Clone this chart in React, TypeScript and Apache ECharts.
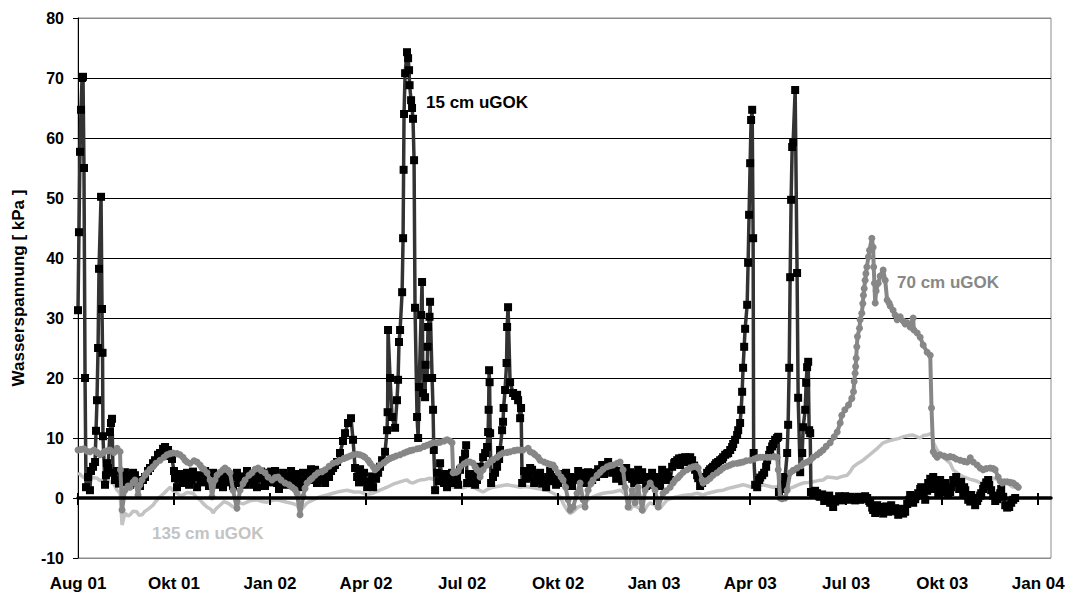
import React, { useEffect, useRef } from "react";
import * as echarts from "echarts";

// x values: days since 1 Aug 2001
const xTickDays = [0, 90, 180, 270, 360, 450, 540, 630, 720, 810, 900];
const xTickLabels = ["Aug 01", "Okt 01", "Jan 02", "Apr 02", "Jul 02", "Okt 02", "Jan 03", "Apr 03", "Jul 03", "Okt 03", "Jan 04"];
const xMaxDay = 912;

const yTitle = "Wasserspannung [ kPa ]";
const label15 = "15 cm uGOK";
const label70 = "70 cm uGOK";
const label135 = "135 cm uGOK";

// 15 cm uGOK  [day, kPa]
const series15: [number, number][] = [
  [0,31.3],[0.9,44.3],[1.9,57.7],[2.8,64.7],[3.8,70.0],[4.7,70.2],[5.6,55.0],[6.6,20.0],[7.5,1.8],[9.4,3.5],[11.2,1.3],[12.2,4.5],[14.1,5.2],[16.0,6.0],[16.9,11.2],[17.8,16.3],[18.8,25.0],[19.7,38.2],[21.6,50.2],[22.5,31.5],[23.0,24.2],[23.4,10.3],[25.3,2.2],[26.2,3.8],[27.2,5.8],[28.1,5.0],[30.0,11.0],[30.9,12.5],[31.9,13.2],[32.8,4.2],[34.7,3.0],[36.6,4.5],[38.4,2.4],[39.4,2.8],[41.3,3.8],[43.1,2.6],[44.0,4.3],[46.9,3.8],[48.8,2.2],[49.7,2.8],[51.6,4.2],[53.4,3.8],[55.3,3.0],[56.3,2.5],[58.1,2.0],[60.9,3.0],[62.8,3.5],[65.6,4.5],[67.5,5.0],[70.3,5.8],[72.2,6.3],[75.0,7.2],[76.9,7.5],[79.7,8.2],[81.6,8.5],[84.4,8.0],[86.3,7.0],[88.1,6.5],[90.0,4.5],[90.9,3.3],
  [92.8,1.8],[94.7,3.2],[96.6,4.0],[98.4,2.5],[100.3,3.5],[102.2,4.2],[104.1,2.2],[106.0,3.0],[107.8,4.4],[109.7,3.5],[111.6,1.8],[113.4,3.8],[115.3,2.6],[117.2,3.0],[119.1,4.5],[120.9,3.6],[122.8,2.0],[124.7,2.5],[126.6,4.2],[128.4,3.2],[130.3,3.5],[132.2,2.2],[134.1,3.0],[135.9,1.8],[137.8,3.3],[139.7,4.0],[141.6,2.6],[143.4,3.5],[145.3,2.0],[147.2,3.8],[149.0,4.2],[150.9,2.5],[152.8,3.6],[154.7,3.0],[156.6,2.2],[158.4,4.5],[160.3,3.5],[162.2,2.8],[164.1,2.2],[166.0,3.8],[167.8,1.8],[169.7,3.2],[171.6,4.4],[173.4,4.2],[175.3,2.0],[177.2,3.0],[179.1,3.5],[181.0,4.4],[182.8,2.6],[184.7,4.5],[186.6,2.5],[188.4,1.5],[190.3,3.3],[192.2,4.2],[194.1,2.2],[195.9,3.6],[197.8,3.0],[199.7,4.5],[201.6,2.8],[203.4,3.5],[205.3,4.0],[207.2,1.8],[209.1,2.8],[210.9,4.2],[212.8,2.8],[214.7,3.6],[216.6,3.0],[218.4,4.8],[220.3,3.4],[222.2,4.7],[224.0,2.5],[225.9,3.0],[227.8,4.2],[229.7,3.2],[231.6,2.5],[233.4,4.2],[235.3,3.5],[237.2,4.5],[239.1,5.0],[240.9,5.5],[242.8,6.0],
  [245.6,7.5],[248.4,9.5],[250.3,10.8],[253.1,12.5],[255.9,13.3],[257.8,9.7],[259.7,5.0],[261.6,3.5],[263.4,2.6],[264.4,4.8],[266.3,3.0],[268.1,4.2],[270.0,2.8],[271.0,1.8],[273.8,2.5],[275.6,3.6],[276.6,1.8],[279.4,3.2],[281.3,4.2],[283.1,5.2],[285.0,6.3],[287.8,7.7],[289.7,11.3],[290.2,14.3],[290.6,28.0],[292.5,20.0],[294.4,13.5],[297.2,11.7],[299.0,16.3],[300.0,19.7],[300.9,26.0],[301.9,28.0],[303.8,34.3],[304.7,43.3],[305.2,54.7],[305.6,64.0],[306.6,70.8],[308.4,74.3],[309.4,73.3],[310.3,71.3],[310.8,68.8],[312.2,66.3],[313.1,65.0],[314.0,63.2],[315.0,56.3],[315.9,31.7],[317.8,13.5],[318.8,10.0],[319.7,18.5],[321.6,30.5],[322.5,36.0],[323.4,17.5],[325.3,16.8],[325.8,22.2],[327.2,20.0],[327.7,25.2],[328.1,28.5],[329.5,30.2],[330.0,32.7],[331.9,20.0],[332.8,14.7],[333.5,8.0],[334.7,1.3],[336.6,4.2],[338.4,2.8],[339.4,5.8],[341.3,3.5],[343.1,2.5],[344.1,4.0],[345.9,1.8],[347.8,3.8],[348.8,3.0],[350.6,4.2],[351.6,2.5],[353.4,4.0],[355.3,3.5],[356.3,2.2],[358.1,4.7],[360.9,6.3],[362.8,7.4],[363.8,8.8],[364.7,2.5],[366.6,4.0],[367.5,3.5],[369.4,2.5],[371.3,4.0],[372.2,2.2],[374.0,3.0],[375.9,4.2],[376.9,5.2],[379.7,6.8],[381.6,7.5],[383.4,8.5],[384.4,11.0],[384.9,14.7],[385.3,21.3],[385.8,19.3],[386.3,10.8],[387.2,2.5],[389.0,3.5],[390.9,4.2],[392.8,5.2],[394.7,6.5],[395.6,8.0],[397.5,11.3],[398.4,12.7],[398.9,15.0],[400.3,18.0],[401.7,22.5],[402.2,28.5],[403.1,31.8],[405.0,19.3],[407.8,17.5],[409.7,17.0],[411.6,17.2],[412.5,16.3],[414.4,13.3],[415.3,15.0],
  [416.3,2.5],[418.1,4.5],[420.0,3.2],[421.9,3.5],[423.8,5.0],[425.6,4.7],[427.5,2.5],[429.4,3.8],[431.3,3.0],[433.1,4.2],[435.0,2.4],[436.9,3.0],[438.8,1.8],[440.6,3.5],[442.5,4.5],[444.4,2.8],[446.3,3.5],[448.1,2.2],[450.0,2.5],[451.9,3.4],[453.8,4.0],[455.6,3.0],[457.5,4.2],[459.4,2.6],[461.3,3.5],[463.1,2.0],[465.0,3.4],[466.9,3.0],[468.8,4.5],[470.6,3.6],[472.5,4.2],[474.4,2.5],[476.3,3.2],[478.1,4.3],[480.0,3.6],[481.9,3.0],[483.8,4.2],[485.6,3.5],[487.5,4.8],[489.4,4.2],[491.3,5.5],[493.1,4.0],[495.0,5.2],[496.9,6.0],[498.8,5.0],[500.6,4.2],[502.5,4.7],[504.4,3.2],[506.3,4.5],[508.1,4.2],[510.0,2.8],[511.9,4.0],[513.8,5.0],[515.6,3.5],[517.5,4.3],[519.4,3.2],[521.3,2.5],[523.1,4.0],[525.0,4.7],[526.9,3.0],[528.8,4.3],[530.6,3.4],[532.5,2.0],[534.4,3.5],[536.3,2.2],[538.1,4.2],[540.0,3.0],[541.9,2.5],[543.8,3.5],[545.6,2.0],[547.5,4.7],[549.4,3.0],[551.3,4.3],[553.1,3.6],[555.0,3.0],[556.9,5.2],
  [558.8,5.8],[559.7,6.0],[561.6,6.3],[563.4,6.6],[564.4,5.5],[566.3,6.7],[568.1,6.0],[569.1,6.8],[570.9,6.7],[572.8,6.2],[573.8,6.8],[575.6,6.3],[577.5,5.4],[578.4,4.7],[580.3,3.8],[581.3,3.3],[583.1,2.0],[585.0,2.5],[586.9,3.0],[587.8,3.5],[589.7,4.2],[591.6,4.5],[592.5,4.8],[594.4,5.0],[595.3,5.2],[597.2,5.5],[598.1,5.8],[600.0,6.0],[601.9,6.3],[603.8,6.5],[604.7,6.8],[606.6,7.2],[608.4,7.4],[609.4,7.5],[611.3,8.0],[613.1,8.5],[614.1,9.0],[615.9,9.7],[617.8,10.5],[618.8,11.3],[620.6,12.5],[621.6,14.7],[622.5,17.7],[623.4,21.7],[624.4,25.2],[625.3,28.2],[627.2,32.2],[628.1,39.2],[629.0,47.2],[630.0,55.8],[630.9,63.0],[631.9,64.7],[632.8,43.3],[633.3,7.5],[634.7,2.2],[636.6,1.8],[638.5,3.0],[639.4,3.4],[641.3,3.8],[643.1,4.2],[645.0,5.2],[645.9,6.3],[647.8,7.2],[648.8,8.0],[650.6,8.6],[651.6,9.0],[653.4,9.7],[655.3,10.0],[656.3,10.2],[657.0,1.0],[659.7,1.5],[661.6,2.2],[662.8,3.5],[664.7,7.5],[665.6,12.2],[666.6,21.7],[667.5,36.8],[668.4,49.7],[669.4,58.5],[670.3,59.3],[672.2,68.0],[674.0,37.5],[675.0,16.7],[676.9,4.3],[678.8,7.5],[679.7,11.8],[681.6,14.7],[682.5,19.2],[683.4,21.8],[684.4,22.7],[685.3,11.3],[686.3,10.8],[687.0,1.0],
  [689.0,0.5],[690.9,1.2],[692.8,0.8],[694.7,0.3],[695.6,0.2],[697.5,0.6],[699.4,-0.5],[701.3,0.2],[702.2,-0.3],[704.1,0.4],[705.0,-0.8],[706.9,-0.2],[707.8,-1.5],[709.7,-0.6],[711.6,-0.3],[713.4,0.3],[715.3,-0.4],[717.2,0.0],[719.1,0.3],[721.9,-0.3],[723.8,0.2],[726.6,0.0],[728.4,-0.4],[731.3,0.2],[733.1,-0.3],[735.9,-0.2],[737.8,0.3],[739.7,0.0],[741.6,-0.5],[742.5,-0.8],[744.4,-1.6],[745.3,-2.0],[747.2,-2.5],[749.1,-1.2],[750.9,-2.2],[752.8,-1.5],[754.7,-2.6],[755.6,-2.0],[757.5,-1.4],[759.4,-2.3],[761.3,-1.6],[762.2,-1.2],[764.1,-2.2],[765.9,-1.7],[767.8,-2.2],[768.8,-2.8],[770.6,-1.8],[771.6,-2.0],[773.4,-2.6],[775.3,-2.3],[777.2,-1.0],[779.1,-0.3],[780.0,0.5],[781.9,0.1],[782.8,-0.8],[784.7,-0.2],[785.6,0.3],[787.5,0.8],[789.4,1.5],[790.3,1.8],[792.2,0.6],[794.1,-0.3],[795.9,1.2],[796.9,2.5],[798.8,3.2],[799.7,1.5],[801.6,3.5],[803.4,2.6],[804.4,1.8],[806.3,0.5],[807.2,1.6],[808.1,3.0],[810.0,2.2],[810.9,1.0],[812.8,2.5],[814.7,1.5],[815.6,0.5],[817.5,1.0],[818.4,1.8],[820.3,3.0],[821.3,2.5],[823.1,3.5],[825.0,2.6],[825.9,1.5],[827.8,2.7],[829.7,0.8],[830.6,1.8],[831.6,1.3],[833.4,0.4],[834.4,-0.3],[836.3,-0.6],[837.2,0.5],[839.1,-0.5],[840.9,-1.2],[842.8,-0.5],[843.8,0.0],[845.6,0.4],[846.6,0.8],[848.4,1.5],[849.4,2.0],[851.3,2.6],[853.1,3.0],[854.1,2.2],[855.9,1.3],[857.8,0.4],[859.7,-0.5],[861.6,-0.2],[862.5,0.2],[864.4,0.8],[865.3,1.5],[867.2,0.2],[869.1,-1.2],[870.9,-1.6],[872.8,-1.5],[874.7,-0.8],[876.6,-0.3],[878.4,0.0]
];

// 70 cm uGOK  [day, kPa]
const series70: [number, number][] = [
  [0,8.0],[2.8,8.1],[5.6,8.2],[8.4,7.8],[11.3,7.7],[15.0,8.0],[17.8,7.6],[20.6,7.2],[23.4,7.5],[25.3,7.8],[28.1,7.9],[30,8.0],[33.8,7.6],[36.6,8.3],[39.4,7.7],[39.8,4.7],[41.3,-2.0],[44,1.3],[46.9,2.0],[48.8,1.8],[51.6,2.6],[53.4,3.0],[56.3,0.5],[58.1,2.2],[60,3.0],[62.8,3.8],[64.7,4.2],[67.5,4.8],[70.3,5.2],[73.1,5.8],[76.9,6.3],[80.6,6.8],[83.4,7.2],[86.3,7.4],[89,7.5],[92.8,7.4],[95.6,7.2],[98.4,6.8],[100.3,6.3],[102.2,6.0],[105,5.8],[108.8,6.2],[111.6,6.0],[114.4,5.5],[116.3,5.0],[118.1,4.8],[120.9,4.2],[123.8,3.0],[125.6,0.2],[128.4,3.0],[130.3,3.8],[133.1,4.3],[135.9,4.7],[137.8,5.0],[140.6,4.6],[142.5,4.2],[145.3,1.3],[149,-1.7],[151.9,1.3],[154.7,2.4],[156.6,3.0],[160.3,3.8],[163.1,4.2],[165.9,4.8],[168.8,5.0],[171.6,4.6],[175.3,4.2],[178.1,3.5],[181.9,3.0],[184.7,3.4],[187.5,3.5],[190.3,3.0],[194,2.5],[197.8,2.2],[200.6,1.8],[203.4,1.4],[205.3,0.8],[208.1,-2.8],[210.9,0.2],[212.8,1.6],[214.7,2.5],[217.5,3.0],[219.4,3.3],[222.2,3.8],[225,4.2],[228.8,4.4],[231.6,4.7],[235.3,5.3],[239,5.8],[242.8,6.0],[245.6,6.3],[249.4,6.6],[252.2,6.8],[255,7.0],[257.8,7.2],[261.6,7.3],[264.4,7.2],[267.2,7.0],[269,6.8],[271.9,6.3],[273.8,5.8],[276.6,5.2],[278.4,4.7],[280.3,5.0],[283.1,5.5],[286.9,5.9],[289.7,6.3],[292.5,6.6],[295.3,6.8],[298.1,7.0],[301.9,7.2],[305.6,7.5],[308.4,7.7],[311.3,7.9],[314,8.0],[317.8,8.2],[320.6,8.3],[324.4,8.6],[327.2,8.8],[330,9.0],[332.8,9.2],[336.6,9.2],[339.4,9.3],[343.1,9.5],[345.9,9.7],[348.8,9.5],[350.6,9.2],[351.6,4.2],[354.4,4.3],[356.3,4.5],[358.1,5.2],[361.9,5.7],[364.7,6.0],[367.5,6.0],[370.3,5.8],[372.2,5.2],[374,4.7],[376.9,3.5],[379.7,4.7],[383.4,5.5],[386.3,6.0],[389.1,6.4],[392.8,6.8],[395.6,7.2],[398.4,7.5],[402.2,7.6],[405,7.7],[408.8,7.9],[411.6,8.0],[414.4,8.0],[417.2,8.0],[421.9,8.3],[423.8,7.7],[426.6,7.5],[428.4,7.2],[431.3,6.8],[433.1,6.3],[436.9,6.0],[439.7,5.8],[442.5,5.6],[445.3,5.5],[447.2,5.0],[450,4.2],[452.8,3.5],[454.7,3.0],[457,1.8],[459.4,-0.3],[461.3,-2.0],[464.1,-1.5],[467.8,0.8],[470.6,2.5],[473.4,-0.3],[475.3,-1.5],[478.1,1.3],[480.9,2.4],[482.8,3.0],[486.6,3.8],[489.4,4.3],[492.2,4.8],[495.9,5.2],[498.8,5.4],[501.6,5.5],[505.3,5.8],[508.1,6.0],[510.9,4.7],[512.8,1.8],[515.6,-1.5],[519.4,1.3],[522.2,-0.8],[525,1.8],[528.8,-2.0],[531.6,1.3],[536.3,2.5],[540.9,1.3],[543.8,-1.5],[548.4,0.8],[551.3,1.2],[555,1.8],[557.8,2.5],[559.7,3.0],[562.5,3.4],[564.4,3.8],[567.2,4.3],[570.9,4.7],[573.8,5.0],[576.6,5.2],[579.4,5.3],[581.3,5.0],[585,3.0],[585.9,2.5],[589.7,2.9],[592.5,3.3],[595.3,3.8],[599,4.2],[601.9,4.6],[604.7,5.0],[608.4,5.3],[611.3,5.5],[614.1,5.7],[617.8,5.8],[620.6,5.9],[623.4,6.0],[626.3,6.2],[630,6.3],[633.8,6.5],[636.6,6.7],[639.4,6.8],[642.2,6.8],[645.9,6.8],[648.8,6.8],[652.5,6.9],[655.3,6.8],[656.3,4.7],[658.1,0.0],[660.0,-0.1],[662.8,0.0],[664.7,1.3],[667.5,4.2],[670.3,4.6],[674,5.0],[677.8,5.4],[680,5.8],[683.4,6.0],[686.3,6.3],[689.1,6.8],[692.8,7.2],[695.6,7.6],[698.4,8.0],[701.3,8.6],[705,9.2],[708.8,10.2],[711.6,11.0],[714.4,12.5],[715.9,13.8],[718.8,14.7],[722.2,15.5],[725.3,16.6],[726.9,17.7],[727.5,19.4],[728.4,20.8],[728.9,21.9],[729.4,23.3],[730,25.2],[730.6,26.9],[732.5,28.3],[733.1,29.7],[734.7,30.8],[735.6,32.4],[736.2,33.8],[736.9,34.9],[737.8,36.3],[738.5,37.4],[739.4,38.5],[740.9,40.2],[741.9,41.3],[744.1,43.3],[745.3,41.8],[745.8,38.5],[746.5,35.8],[747.2,32.5],[748.1,34.5],[750,35.8],[751.9,37.0],[754.7,38.0],[756.6,36.3],[758.4,33.0],[760.3,32.5],[761.3,32.0],[764,31.3],[765.9,30.5],[767.8,29.7],[769.7,30.0],[770.6,30.2],[773.4,29.5],[775.3,29.0],[777.2,29.2],[780,28.5],[782.8,30.0],[783.5,28.0],[786.6,27.5],[789.4,26.8],[792.2,25.5],[795.9,24.3],[798.8,23.8],[800,15.0],[801.6,7.7],[803.4,7.2],[805.3,6.8],[808.1,7.2],[811.9,7.0],[814.7,6.8],[817.5,6.9],[820.3,6.8],[823.1,6.5],[826.9,6.3],[830.6,6.1],[833.4,6.0],[836.3,6.7],[839.1,6.0],[842.8,5.5],[845.6,5.0],[848.4,4.7],[851.3,4.9],[855,5.0],[857.8,4.9],[859.7,4.7],[862.5,3.5],[864.4,2.8],[866.3,2.5],[868.1,2.7],[870.9,2.7],[873.8,2.6],[876.6,2.5],[879.4,2.1],[881.3,1.8]
];

// 135 cm uGOK  [day, kPa]
const series135: [number, number][] = [
  [0,4.2],[2.8,3.8],[4.7,3.5],[7.5,3.2],[11.3,3.0],[14.1,3.4],[17.8,3.3],[20.6,2.9],[23.4,3.0],[26.3,3.2],[30,2.7],[33.8,2.3],[36.6,1.3],[39.4,0.8],[41.3,-4.5],[44,-2.5],[46.9,-3.0],[48.8,-2.8],[51.6,-2.2],[55.3,-2.3],[57.2,-2.9],[60,-2.8],[62.8,-2.2],[64.7,-2.0],[67.5,-1.6],[70.3,-1.2],[73.1,-0.5],[76.9,0.2],[80.6,0.8],[83.4,1.3],[86.3,1.8],[89.1,1.2],[92.8,0.8],[95.6,0.4],[98.4,0.5],[102.2,0.9],[107.8,0.8],[110.6,0.2],[114.4,-0.3],[117.2,-0.9],[120.9,-1.5],[124.7,-1.9],[126.6,-2.5],[129.4,-1.8],[133.1,-1.2],[136.9,-0.6],[139.7,-0.8],[142.5,-1.1],[145.3,-1.5],[148.1,-1.2],[151.9,-0.8],[154.7,-1.0],[158.4,-0.7],[162.2,-0.4],[167.8,-0.3],[172.5,-0.6],[177.2,-0.7],[181.9,-0.4],[186.6,-0.3],[191.3,-0.5],[195.9,-0.7],[200.6,-0.9],[205.3,-1.2],[208.1,-2.2],[211.9,-1.4],[214.7,-0.8],[218.4,-0.5],[224,0.0],[228.8,0.3],[233.4,0.5],[239,0.8],[245.6,1.1],[252.2,1.3],[258.8,1.0],[264.4,1.0],[270.0,0.6],[276.6,0.8],[283.1,1.3],[289.7,1.8],[295.3,2.3],[301.9,2.7],[305.6,2.9],[308.4,3.0],[311.3,2.6],[314,2.5],[317.8,2.8],[320.6,3.0],[325.3,3.1],[330,3.3],[334.7,3.0],[339.4,2.5],[345.0,2.1],[351.6,1.8],[356.3,1.9],[360.9,1.7],[365.6,2.0],[370.3,1.8],[375.0,1.4],[379.7,1.0],[384.4,1.5],[389,1.8],[395.6,2.0],[402.2,2.2],[408.8,2.0],[414.4,1.8],[420.0,1.9],[426.6,1.7],[433.1,1.5],[439.7,1.3],[445.3,0.8],[451.9,0.2],[455.6,-1.2],[458.4,-2.0],[461.3,-2.6],[464.1,-2.3],[468.8,-1.5],[473.4,-1.2],[476.3,-0.6],[480,0.0],[486.6,0.5],[492.2,0.8],[496.9,0.9],[501.6,1.0],[508.1,1.3],[511.9,0.8],[514.7,0.2],[517.5,-2.0],[520.3,-1.2],[524,-1.5],[526.9,-1.8],[529.7,-2.5],[533.4,-1.3],[536.3,-0.8],[540.9,-1.2],[545.6,-1.7],[549.4,-0.9],[552.2,-0.3],[556.9,0.0],[561.6,0.2],[566.3,0.4],[570.9,0.5],[575.6,0.6],[580.3,0.8],[585.9,0.5],[590.6,0.8],[595.3,1.0],[600.0,1.2],[604.7,1.3],[609.4,1.6],[614,1.8],[618.8,2.0],[623.4,2.2],[628.1,2.0],[632.8,1.7],[637.5,2.0],[642.2,2.2],[646.9,2.0],[651.6,1.8],[656.3,1.9],[660.9,1.7],[665.6,1.6],[670.3,1.8],[675.0,2.2],[679.7,2.5],[684.4,2.6],[689,2.7],[693.8,2.9],[698.4,3.0],[702.2,3.5],[706.9,3.4],[711.6,3.3],[716.3,3.6],[721,3.8],[723.8,4.4],[726.6,5.2],[731.3,5.8],[735.9,6.3],[740.6,7.0],[745.3,7.7],[750.0,8.4],[754.7,9.2],[759.4,9.5],[764,9.7],[768.8,9.9],[773.4,10.2],[778.1,10.4],[782.8,10.5],[786.6,10.2],[789.4,10.0],[792.2,10.4],[795.9,10.5],[798.8,10.7],[800.6,10.8],[801.6,9.3],[805.3,8.0],[808.1,7.3],[810.9,6.8],[814.7,6.2],[817.5,5.8],[820.3,4.7],[824,4.2],[826.9,3.8],[830.6,3.5],[833.4,3.3],[836.3,3.1],[839,3.0],[842.8,2.8],[845.6,2.5],[849.4,2.8],[852.2,3.0],[855.0,3.2],[857.8,3.3],[861.6,3.1],[864.4,3.0],[867.2,2.7],[870.9,2.5],[873.8,2.1],[876.6,1.8],[881.3,2.2]
];

const FONT = "'Liberation Sans', Arial, Helvetica, sans-serif";

export default function App() {
  const ref = useRef<HTMLDivElement>(null);
  useEffect(() => {
    if (!ref.current) return;
    const chart = echarts.init(ref.current, null, { renderer: "svg" });
    const grid = { left: 78, right: 17, top: 18, bottom: 38 };
    const tickFmt = (v: number) => {
      const i = xTickDays.indexOf(Math.round(v));
      return i >= 0 ? xTickLabels[i] : "";
    };
    const option: any = {
      animation: false,
      backgroundColor: "#ffffff",
      textStyle: { fontFamily: FONT },
      grid: [
        { ...grid, show: true, borderColor: "#8c8c8c", borderWidth: 1, backgroundColor: "transparent", outerBoundsMode: "none", containLabel: false },
        { ...grid, outerBoundsMode: "none", containLabel: false },
      ],
      xAxis: [
        {
          gridIndex: 0, type: "value", min: 0, max: xMaxDay, interval: 90, position: "bottom",
          axisLine: { show: false, onZero: false },
          axisTick: { show: false },
          splitLine: { show: false },
          axisLabel: {
            customValues: xTickDays, formatter: tickFmt, margin: 17,
            fontSize: 17, fontWeight: "bold", color: "#000", fontFamily: FONT,
            showMinLabel: true, showMaxLabel: true, hideOverlap: false,
          },
        },
        {
          gridIndex: 0, type: "value", min: 0, max: xMaxDay, interval: 90, position: "bottom",
          axisLine: { show: true, onZero: true, onZeroAxisIndex: 0, lineStyle: { color: "#000", width: 3.5 } },
          axisTick: { show: true, customValues: xTickDays, inside: false, length: 7, lineStyle: { color: "#000", width: 2 } },
          axisLabel: { show: false },
          splitLine: { show: false },
          z: 5,
        },
        {
          gridIndex: 1, type: "value", min: 0, max: xMaxDay, interval: 90, position: "bottom",
          axisLine: { show: false, onZero: true, onZeroAxisIndex: 1 },
          axisTick: { show: true, customValues: xTickDays, inside: true, length: 5, lineStyle: { color: "#000", width: 2 } },
          axisLabel: { show: false },
          splitLine: { show: false },
          z: 5,
        },
      ],
      yAxis: [
        {
          gridIndex: 0, type: "value", min: -10, max: 80, interval: 10,
          axisLine: { show: true, onZero: false, lineStyle: { color: "#000", width: 1 } },
          axisTick: { show: true, length: 5, lineStyle: { color: "#000", width: 1 } },
          axisLabel: { margin: 14, fontSize: 16, fontWeight: "bold", color: "#000", fontFamily: FONT },
          splitLine: {
            show: true,
            lineStyle: { color: ["#8c8c8c", "#000", "#000", "#000", "#000", "#000", "#000", "#000", "#000", "#8c8c8c"], width: 1 },
          },
        },
        {
          gridIndex: 1, type: "value", min: -10, max: 80, interval: 10,
          axisLine: { show: false, onZero: false },
          axisTick: { show: false },
          axisLabel: { show: false },
          splitLine: { show: false },
        },
      ],
      graphic: [
        {
          type: "text", x: 18, y: 288, rotation: Math.PI / 2,
          style: { text: yTitle, fill: "#000", font: `bold 17px ${FONT}`, textAlign: "center", textVerticalAlign: "middle" },
        },
        {
          type: "text", x: 426, y: 102,
          style: { text: label15, fill: "#000", font: `bold 17px ${FONT}`, textAlign: "left", textVerticalAlign: "middle" },
        },
        {
          type: "text", x: 897, y: 282,
          style: { text: label70, fill: "#878787", font: `bold 17px ${FONT}`, textAlign: "left", textVerticalAlign: "middle" },
        },
        {
          type: "text", x: 152, y: 533,
          style: { text: label135, fill: "#c3c3c3", font: `bold 17px ${FONT}`, textAlign: "left", textVerticalAlign: "middle" },
        },
      ],
      series: [
        {
          name: label135, type: "line", xAxisIndex: 0, yAxisIndex: 0, data: series135,
          symbol: "none", showSymbol: false,
          lineStyle: { color: "#c3c3c3", width: 3.5 }, z: 2,
        },
        {
          name: label15, type: "line", xAxisIndex: 0, yAxisIndex: 0, data: series15,
          symbol: "rect", symbolSize: 8, showAllSymbol: true,
          itemStyle: { color: "#000" },
          lineStyle: { color: "#333", width: 3.5 }, z: 3,
        },
        {
          name: label70, type: "line", xAxisIndex: 0, yAxisIndex: 0, data: series70,
          symbol: "circle", symbolSize: 7, showAllSymbol: true,
          itemStyle: { color: "#878787" },
          lineStyle: { color: "#878787", width: 4 }, z: 4,
        },
      ],
    };
    chart.setOption(option);
    return () => chart.dispose();
  }, []);
  return (
    <div
      ref={ref}
      style={{ position: "fixed", left: 0, top: 0, width: 1068, height: 596, background: "#fff" }}
    />
  );
}
